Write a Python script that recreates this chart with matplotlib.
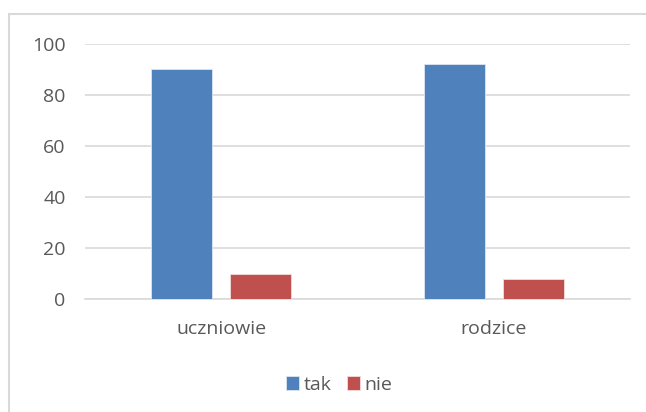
import matplotlib.pyplot as plt
import matplotlib.patches as mpatches
import numpy as np

plt.rcParams['font.family'] = ['Open Sans', 'DejaVu Sans']

categories = ["uczniowie", "rodzice"]
tak = [90, 92]
nie = [10, 8]

fig = plt.figure(figsize=(6.46, 4.12), dpi=100)
# chart frame (Excel-style), right/bottom edges run off the picture
fig.patches.append(mpatches.Rectangle((9 / 646, -0.1), 1.2, 1 - 14 / 412 + 0.1,
                                      transform=fig.transFigure, fill=False,
                                      edgecolor="#D9D9D9", linewidth=1.5))

ax = fig.add_axes([85 / 646, 1 - 299 / 412, 545 / 646, 255 / 412])
x = np.arange(len(categories))
w = 0.225
ax.bar(x - 0.145, tak, w, color="#4F81BD", edgecolor="#DCE6F2", linewidth=0.6, label="tak", zorder=3)
ax.bar(x + 0.145, nie, w, color="#C0504D", edgecolor="#F2DCDB", linewidth=0.6, label="nie", zorder=3)

ax.set_xlim(-0.5, 1.5)
ax.set_ylim(0, 100)
ax.set_yticks(range(0, 101, 20))
ax.set_xticks(x)
ax.set_xticklabels(categories)
ax.yaxis.grid(True, color="#D9D9D9", linewidth=1.2, zorder=0)
ax.set_axisbelow(True)
for s in ["top", "right", "left"]:
    ax.spines[s].set_visible(False)
ax.spines["bottom"].set_color("#D9D9D9")
ax.spines["bottom"].set_linewidth(1.2)
ax.tick_params(axis="both", length=0, labelsize=14, labelcolor="#595959")
ax.tick_params(axis="x", pad=15)
ax.tick_params(axis="y", pad=14)

fig.legend(loc="center", bbox_to_anchor=(339 / 646, 1 - 385 / 412), ncol=2, frameon=False,
           fontsize=14, labelcolor="#595959", handlelength=0.7, handleheight=0.7,
           handletextpad=0.2, columnspacing=0.8)

fig.savefig("out.png", dpi=100)
